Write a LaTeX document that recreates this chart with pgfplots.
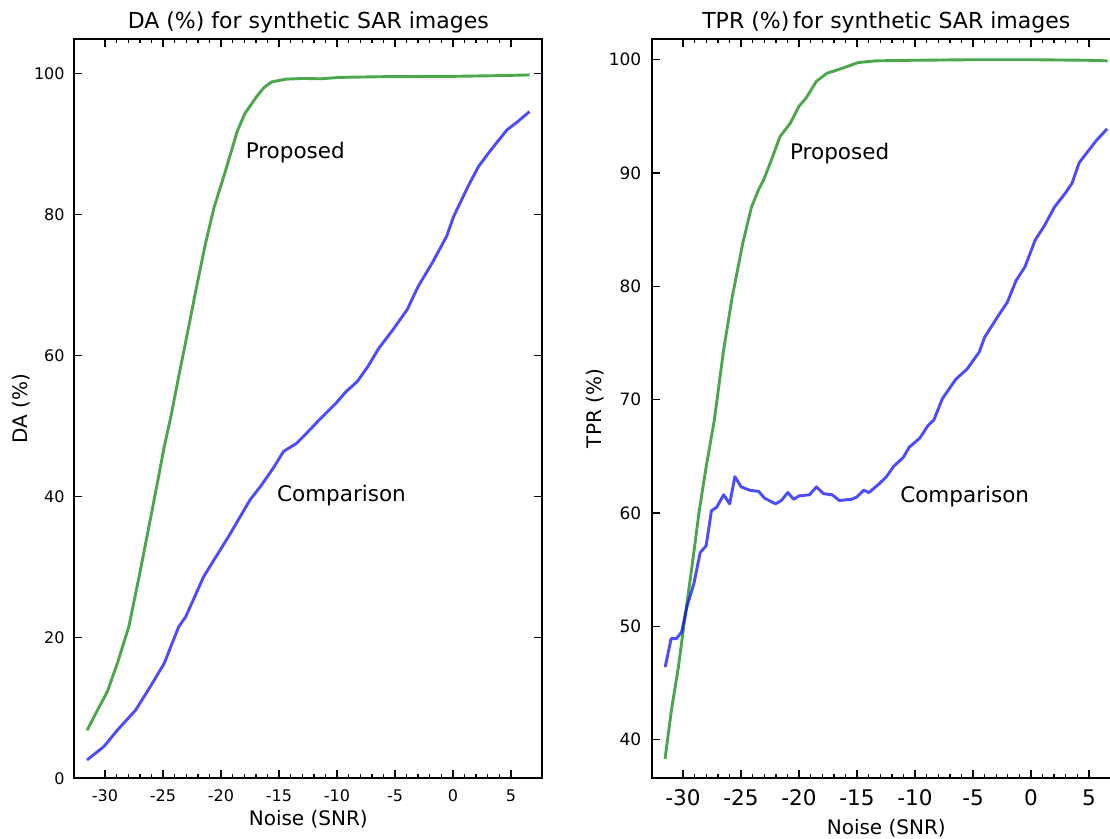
\documentclass[border=0pt]{standalone}
\usepackage{fontspec}
\setmainfont{DejaVu Sans}
\usepackage{pgfplots}
\pgfplotsset{compat=1.18}

\definecolor{pgreen}{rgb}{0,0.5,0}
\definecolor{cblue}{rgb}{0,0,1}

% 1 px of the reference = 0.5pt
\pgfplotsset{
  sar/.style={
    scale only axis, width=234pt, height=369.65pt,
    xmin=-32.65, xmax=7.7,
    axis line style={line width=1pt},
    tick align=inside,
    tick pos=both,
    every tick/.style={draw=black, line width=0.7pt},
    major tick length=4pt, minor tick length=2pt,
    xtick={-30,-25,-20,-15,-10,-5,0,5},
    xticklabels={-30,-25,-20,-15,-10,-5,0,5},
    minor x tick num=4,
    title style={at={(axis description cs:0.5,1)}, anchor=base,
                 yshift=-0.65pt, font=\fontsize{11}{13}\selectfont},
    xlabel={Noise (SNR)},
    every axis plot/.append style={line width=1.45pt, line join=round, opacity=0.7},
  },
}
\tikzset{note/.style={anchor=base west, inner sep=0pt, font=\fontsize{10.75}{13}\selectfont}}

\begin{document}
\begin{tikzpicture}
\useasboundingbox (0,0) rectangle (555pt,419.5pt);

\begin{axis}[sar, at={(37.15pt,30.35pt)}, anchor=south west,
  ymin=0, ymax=104.9,
  ytick={0,20,...,100},
  yticklabels={0,20,40,60,80,100},
  title={DA (\%) for synthetic SAR images},
  ylabel={DA (\%)},
  xticklabel style={font=\fontsize{8}{9.6}\selectfont},
  xticklabel shift=2.33pt,
  yticklabel style={font=\fontsize{8}{9.6}\selectfont, anchor=east, inner sep=0pt, xshift=-4.65pt},
  xlabel style={at={(axis description cs:0.5,-0.0645)}, anchor=base, font=\fontsize{10}{12}\selectfont},
  ylabel style={at={(axis description cs:-0.113,0.5)}, anchor=center, font=\fontsize{10}{12}\selectfont},
]
\addplot[pgreen] coordinates {
 (-31.55,6.8) (-30.8,9.2) (-29.8,12.3) (-28.9,16.5) (-27.95,21.5) (-27.0,29.1)
 (-26.1,36.7) (-25.5,41.8) (-24.9,47.0) (-24.3,51.5) (-23.7,56.6) (-23.0,62.3)
 (-22.1,69.8) (-21.35,75.8) (-20.6,81.0) (-19.65,86.0) (-18.6,91.8) (-17.95,94.3)
 (-16.9,96.8) (-16.3,98.0) (-15.65,98.8) (-14.4,99.2) (-12.9,99.3) (-11.4,99.25)
 (-9.8,99.45) (-8,99.5) (-6,99.55) (-4,99.55) (-2,99.6) (0,99.6) (2,99.65)
 (4,99.7) (6.6,99.8)
};
\addplot[cblue] coordinates {
 (-31.55,2.6) (-30.1,4.5) (-28.9,6.9) (-27.35,9.7) (-26.1,13.0) (-24.9,16.3)
 (-23.65,21.5) (-23.05,22.9) (-21.5,28.6) (-20.6,31.0) (-19.35,34.3) (-17.5,39.5)
 (-16.6,41.4) (-15.5,44.0) (-14.6,46.4) (-13.5,47.5) (-12.6,49.0) (-11.45,51.0)
 (-10.1,53.2) (-9.2,54.9) (-8.25,56.3) (-7.35,58.4) (-6.4,61.0) (-5.2,63.6)
 (-3.95,66.5) (-3.0,69.8) (-1.8,73.1) (-0.55,76.9) (0.05,79.7) (1.3,84.0)
 (2.2,86.8) (3.15,88.9) (4.65,92.0) (5.6,93.2) (6.6,94.6)
};
\node[note] at (axis cs:-17.9,87.9) {Proposed};
\node[note] at (axis cs:-15.2,39.3) {Comparison};
\end{axis}

\begin{axis}[sar, at={(326.15pt,30.35pt)}, anchor=south west,
  ymin=36.58, ymax=101.83,
  ytick={40,50,...,100},
  yticklabels={40,50,60,70,80,90,100},
  title={TPR (\%)\,for synthetic SAR images},
  ylabel={TPR (\%)},
  xticklabel style={font=\fontsize{10.75}{13}\selectfont},
  xticklabel shift=2.27pt,
  yticklabel style={font=\fontsize{8.5}{10}\selectfont, anchor=east, inner sep=0pt, xshift=-5.3pt},
  xlabel style={at={(axis description cs:0.5,-0.0767)}, anchor=base, font=\fontsize{10}{12}\selectfont},
  ylabel style={at={(axis description cs:-0.1225,0.5)}, anchor=center, font=\fontsize{10}{12}\selectfont},
]
\addplot[pgreen] coordinates {
 (-31.55,38.3) (-31.0,42.6) (-30.4,46.4) (-29.95,49.9) (-29.2,55.5) (-28.6,60.2)
 (-28.0,64.1) (-27.3,68.2) (-26.5,74.4) (-25.75,79.1) (-24.85,83.8) (-24.1,87.0)
 (-23.5,88.5) (-23.05,89.4) (-22.4,91.1) (-21.65,93.2) (-20.75,94.4) (-20.0,95.9)
 (-19.4,96.6) (-18.5,98.1) (-17.6,98.8) (-16.4,99.2) (-14.9,99.75) (-13.4,99.9)
 (-10.3,99.95) (-5,100) (0,100) (5,99.95) (6.6,99.9)
};
\addplot[cblue] coordinates {
 (-31.54,46.4) (-31.03,48.9) (-30.57,48.9) (-30.12,49.5) (-29.67,51.7) (-29.06,53.8)
 (-28.52,56.5) (-28.01,57.1) (-27.55,60.2) (-27.10,60.5) (-26.50,61.6) (-25.98,60.8)
 (-25.53,63.2) (-24.99,62.3) (-24.23,62.0) (-23.48,61.9) (-22.97,61.3) (-22.03,60.8)
 (-21.52,61.1) (-20.97,61.8) (-20.46,61.2) (-20.01,61.5) (-19.10,61.6) (-18.50,62.3)
 (-17.89,61.7) (-17.14,61.6) (-16.53,61.1) (-15.48,61.2) (-15.02,61.4) (-14.42,62.0)
 (-13.97,61.8) (-13.06,62.6) (-12.46,63.2) (-11.85,64.1) (-11.01,64.9) (-10.50,65.8)
 (-9.59,66.6) (-8.89,67.7) (-8.38,68.2) (-7.63,70.1) (-6.48,71.8) (-5.51,72.7)
 (-4.46,74.2) (-4.00,75.5) (-2.95,77.2) (-2.04,78.6) (-1.29,80.5) (-0.53,81.7)
 (0.37,84.1) (1.13,85.3) (2.03,87.0) (2.94,88.2) (3.54,89.1) (4.15,90.9)
 (4.90,91.9) (5.66,92.9) (6.56,93.9)
};
\node[note] at (axis cs:-20.8,91.2) {Proposed};
\node[note] at (axis cs:-11.3,60.95) {Comparison};
\end{axis}
\end{tikzpicture}
\end{document}
